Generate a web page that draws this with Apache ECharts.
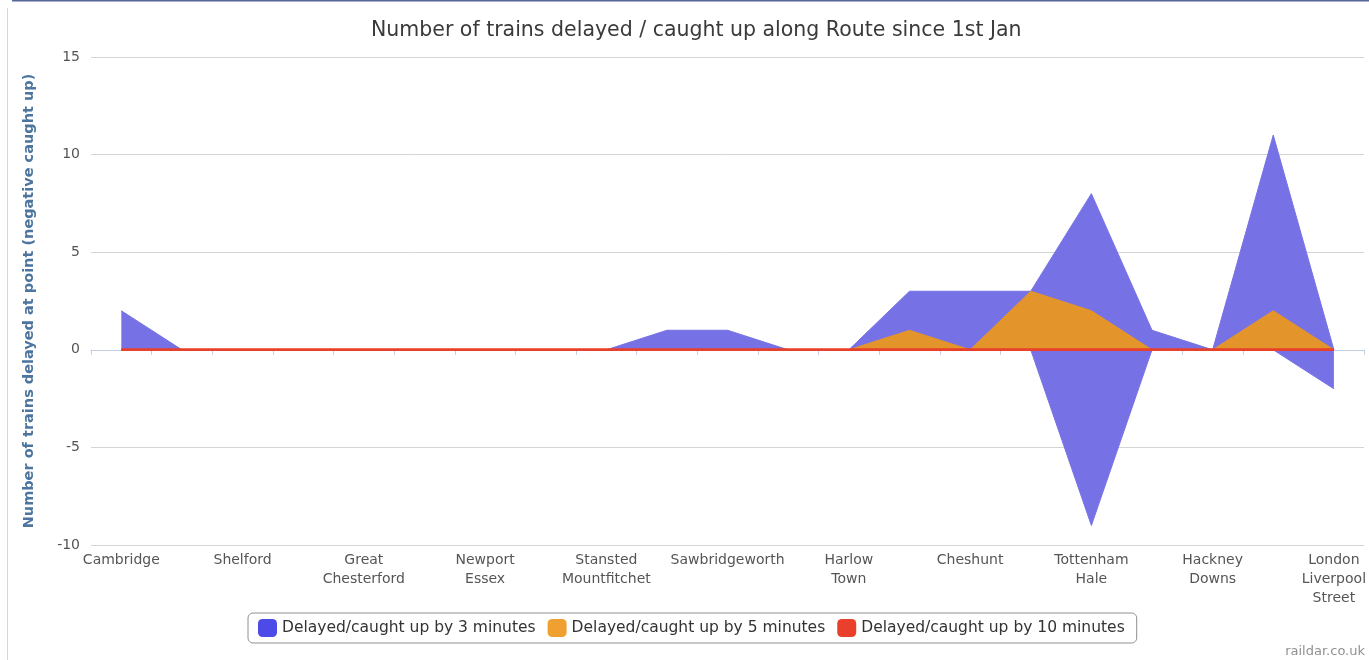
<!DOCTYPE html>
<html>
<head>
<meta charset="utf-8">
<script src="https://cdn.jsdelivr.net/npm/echarts@6/dist/echarts.min.js"></script>
<style>
html,body{margin:0;padding:0;background:#fff;}
#chart{width:1369px;height:660px;}
</style>
</head>
<body>
<div id="chart"></div>
<script>
// Stations along the route (labels shown on every other one)
const stations = [
  "Cambridge", "Shepreth Branch Junction", "Shelford", "Whittlesford Parkway",
  "Great Chesterford", "Audley End", "Newport Essex", "Elsenham",
  "Stansted Mountfitchet", "Bishops Stortford", "Sawbridgeworth", "Harlow Mill",
  "Harlow Town", "Broxbourne", "Cheshunt", "Brimsdown",
  "Tottenham Hale", "Lea Bridge", "Hackney Downs", "Bethnal Green",
  "London Liverpool Street"
];
const seriesNames = [
  "Delayed/caught up by 3 minutes",
  "Delayed/caught up by 5 minutes",
  "Delayed/caught up by 10 minutes"
];
// delayed (positive) and caught up (negative) counts
const delayed3  = [2,0,0,0,0,0,0,0,0,1,1,0,0,3,3,3,8,1,0,11,0];
const caught3   = [0,0,0,0,0,0,0,0,0,0,0,0,0,0,0,0,-9,0,0,0,-2];
const delayed5  = [0,0,0,0,0,0,0,0,0,0,0,0,0,1,0,3,2,0,0,2,0];
const caught5   = [0,0,0,0,0,0,0,0,0,0,0,0,0,0,0,0,0,0,0,0,0];
const delayed10 = [0,0,0,0,0,0,0,0,0,0,0,0,0,0,0,0,0,0,0,0,0];
const caught10  = [0,0,0,0,0,0,0,0,0,0,0,0,0,0,0,0,0,0,0,0,0];
const yTicks = {min: -10, max: 15, interval: 5};

const legendColors = ['#4d4ae8', '#f0a030', '#e8402a'];
const fillColors = ['#7672e6', '#e3952b', '#e8402a'];
const FONT = 'DejaVu Sans';

function areaSeries(name, data, idx, z) {
  return {
    name: name, type: 'line', data: data, symbol: 'none', z: z,
    itemStyle: {color: legendColors[idx]},
    lineStyle: {color: fillColors[idx], width: idx === 2 ? 2.5 : 1},
    areaStyle: idx === 2 ? undefined : {color: fillColors[idx], opacity: 1},
    animation: false
  };
}

const chart = echarts.init(document.getElementById('chart'));
chart.setOption({
  animation: false,
  title: {
    text: 'Number of trains delayed / caught up along Route since 1st Jan',
    left: 366, top: 15,
    textStyle: {fontFamily: FONT, fontSize: 20.5, fontWeight: 'normal', color: '#3a3a3a'}
  },
  graphic: [
    {type: 'line', shape: {x1: 7.5, y1: 8, x2: 7.5, y2: 660}, style: {stroke: '#cfd8e6', lineWidth: 1}},
    {type: 'line', shape: {x1: 12, y1: 0.5, x2: 1369, y2: 0.5}, style: {stroke: '#56659a', lineWidth: 2}},
    {type: 'text', right: 4, bottom: 2, style: {text: 'raildar.co.uk', fontFamily: FONT, fontSize: 13, fill: '#909090'}}
  ],
  legend: {
    data: seriesNames.map((n, i) => ({name: n, itemStyle: {color: legendColors[i]}})),
    left: 248, top: 613,
    icon: 'roundRect', itemWidth: 19, itemHeight: 18, itemGap: 12,
    borderColor: '#909090', borderWidth: 1, borderRadius: 5,
    padding: [6, 12, 6, 10],
    textStyle: {fontFamily: FONT, fontSize: 15.5, color: '#333'}
  },
  grid: {left: 91, right: 4, top: 57, bottom: 115},
  xAxis: {
    type: 'category', data: stations, boundaryGap: true,
    axisLine: {lineStyle: {color: '#c0d0e0'}},
    axisTick: {show: true, interval: 0, length: 5, lineStyle: {color: '#c0d0e0'}},
    axisLabel: {
      interval: 1, margin: 6,
      fontFamily: FONT, fontSize: 14, color: '#555', lineHeight: 19,
      formatter: v => v.split(' ').join('\n')
    }
  },
  yAxis: {
    type: 'value', min: yTicks.min, max: yTicks.max, interval: yTicks.interval,
    name: 'Number of trains delayed at point (negative caught up)',
    nameLocation: 'middle', nameGap: 54,
    nameTextStyle: {fontFamily: FONT, fontSize: 14.5, fontWeight: 'bold', color: '#4d759e'},
    axisLine: {show: false}, axisTick: {show: false},
    axisLabel: {fontFamily: FONT, fontSize: 14, color: '#555', margin: 11},
    splitLine: {lineStyle: {color: '#d4d4d4'}}
  },
  series: [
    areaSeries(seriesNames[0], delayed3, 0, 2),
    areaSeries(seriesNames[0], caught3, 0, 2),
    areaSeries(seriesNames[1], delayed5, 1, 3),
    areaSeries(seriesNames[1], caught5, 1, 3),
    areaSeries(seriesNames[2], delayed10, 2, 4),
    areaSeries(seriesNames[2], caught10, 2, 4)
  ]
});
</script>
</body>
</html>
